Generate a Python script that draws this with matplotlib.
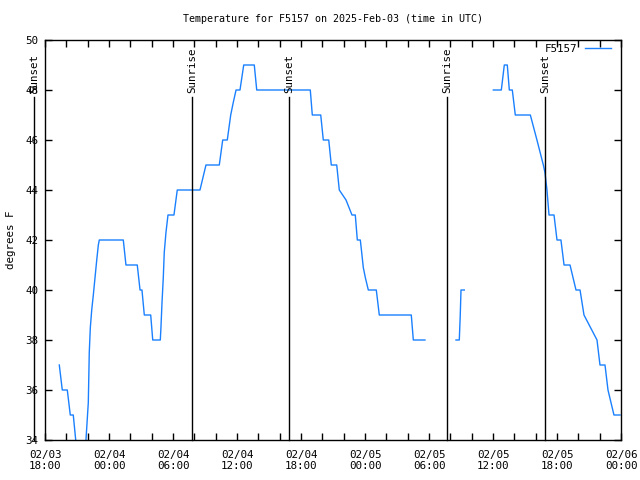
import matplotlib
matplotlib.use("Agg")
import matplotlib.pyplot as plt
import matplotlib.dates as mdates
from matplotlib.ticker import MultipleLocator
import numpy as np
import pandas as pd

# hours after 2025-02-03 18:00 UTC, temperature in F (nan = missing data)
hours = [
    1.34, 1.62, 2.09, 2.37, 2.65, 2.88, 3.09, 3.66, 3.84, 4.06, 4.15, 4.25,
    4.38, 4.53, 4.69, 4.85, 5.00, 5.09, 7.34, 7.59, 8.65, 8.91, 9.09, 9.31,
    9.91, 10.10, 10.81, 10.87, 10.97, 11.09, 11.18, 11.34, 11.53, 12.09, 12.40,
    14.53, 14.81, 15.09, 16.34, 16.66, 17.09, 17.41, 17.65, 17.91, 18.28, 18.63,
    19.62, 19.85, 24.87, 25.06, 25.85, 26.09, 26.60, 26.84, 27.35, 27.59, 28.22,
    28.78, 29.09, 29.28, 29.56, 29.69, 29.84, 30.03, 30.31, 31.06, 31.34, 34.34,
    34.53, 35.62, 37.0,
    38.53, 38.84, 38.93, 39.00, 39.31, 41.0,
    42.03, 42.78, 43.06, 43.34, 43.53, 43.81, 44.09, 45.50, 46.12, 46.72, 46.87,
    47.06, 47.25, 47.72, 48.00, 48.37, 48.66, 49.22, 49.78, 50.16, 50.53, 51.75,
    52.03, 52.50, 52.78, 53.34, 53.91,
]
temps = [
    37, 36, 36, 35, 35, 34, 33.5, 33.5, 34, 35.5, 37.5, 38.5,
    39.2, 39.8, 40.5, 41.2, 41.8, 42, 42, 41, 41, 40, 40, 39,
    39, 38, 38, 38.5, 39.5, 40.5, 41.5, 42.3, 43, 43, 44,
    44, 44.5, 45, 45, 46, 46, 47, 47.5, 48, 48, 49,
    49, 48, 48, 47, 47, 46, 46, 45, 45, 44, 43.6,
    43, 43, 42, 42, 41.5, 40.9, 40.5, 40, 40, 39, 39,
    38, 38, np.nan,
    38, 38, 39, 40, 40, np.nan,
    48, 48, 49, 49, 48, 48, 47, 47, 46, 45, 44.7,
    44, 43, 43, 42, 42, 41, 41, 40, 40, 39, 38,
    37, 37, 36, 35, 35,
]

sun_hours = [-1.03, 13.78, 22.87, 37.69, 46.87]
sun_labels = ["Sunset", "Sunrise", "Sunset", "Sunrise", "Sunset"]

base = pd.Timestamp("2025-02-03 18:00")
times = base + pd.to_timedelta(hours, unit="h")
sun_times = base + pd.to_timedelta(sun_hours, unit="h")

plt.rcParams["font.family"] = "DejaVu Sans Mono"
fs = 7.2

fig = plt.figure(figsize=(6.4, 4.8), dpi=100)
ax = fig.add_axes([45 / 640, 40 / 480, 576 / 640, 400 / 480])

ax.plot(times, temps, color="#1a80ff", lw=1.0, label="F5157")

for t, lab in zip(sun_times, sun_labels):
    ax.plot([t, t], [34, 47.72], color="black", lw=1.0, clip_on=False)
    ax.text(t, 47.88, lab, rotation=90, ha="center", va="bottom",
            fontsize=fs + 0.6, clip_on=False)

ax.set_xlim(base, base + pd.Timedelta(hours=54))
ax.set_ylim(34, 50)

ax.xaxis.set_major_locator(mdates.HourLocator(byhour=[0, 6, 12, 18]))
ax.xaxis.set_minor_locator(mdates.HourLocator(byhour=range(0, 24, 2)))
ax.xaxis.set_major_formatter(mdates.DateFormatter("%m/%d\n%H:%M"))
ax.yaxis.set_major_locator(MultipleLocator(2))

ax.tick_params(which="both", direction="in", top=True, right=True,
               length=5, width=1, labelsize=fs + 0.6)
ax.tick_params(axis="x", pad=7)
ax.tick_params(axis="y", pad=5)
for s in ax.spines.values():
    s.set_linewidth(1)

fig.text(11 / 640, 0.5, "degrees F", rotation=90, ha="center", va="center",
         fontsize=fs + 0.6)
fig.text(333 / 640, 1 - 19 / 480,
         "Temperature for F5157 on 2025-Feb-03 (time in UTC)",
         ha="center", va="center", fontsize=fs)

ax.legend(loc="upper right", bbox_to_anchor=(611 / 640, 1 - 44 / 480),
          bbox_transform=fig.transFigure, frameon=False, markerfirst=False,
          handlelength=2.4, handletextpad=0.7, borderpad=0, borderaxespad=0,
          fontsize=fs + 0.6)

fig.savefig("out.png", dpi=100)
